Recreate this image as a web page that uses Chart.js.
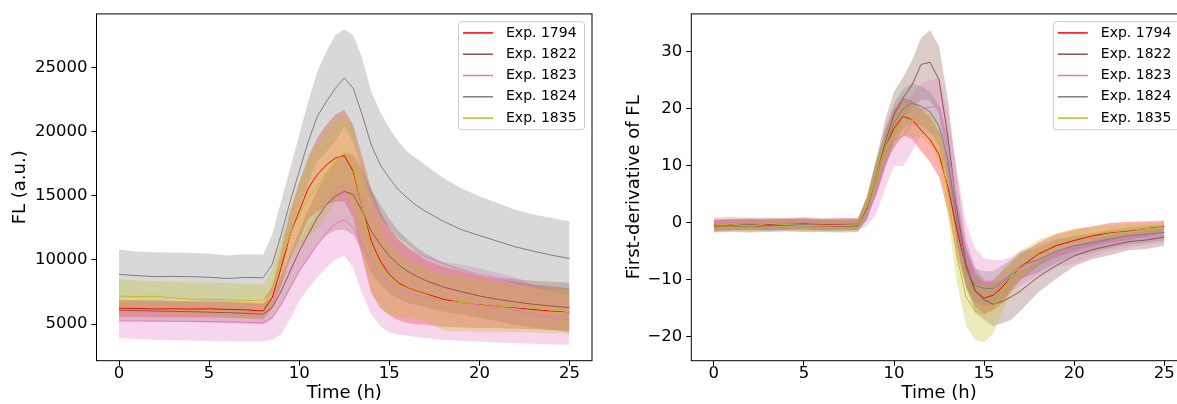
<!DOCTYPE html>
<html>
<head>
<meta charset="utf-8">
<script src="https://cdn.jsdelivr.net/npm/chart.js@4.4.0/dist/chart.umd.min.js"></script>
<style>
  html, body { margin: 0; padding: 0; background: #fff; overflow: hidden; }
  #wrap { position: relative; width: 1177px; height: 404px; overflow: hidden; }
  canvas { position: absolute; top: 0; }
  #left { left: 0; }
  #right { left: 600px; }
</style>
</head>
<body>
<div id="wrap">
  <canvas id="left" width="600" height="404"></canvas>
  <canvas id="right" width="600" height="404"></canvas>
</div>
<script>
// time axis (h)
const times = [0, 1, 2, 3, 4, 5, 6, 7, 8, 8.5, 9, 9.5, 10, 10.5, 11, 11.5, 12, 12.5, 13, 13.5, 14, 14.5, 15, 15.5, 16, 16.5, 17, 18, 19, 20, 21, 22, 23, 24, 25];
const experiments = ["Exp. 1794", "Exp. 1822", "Exp. 1823", "Exp. 1824", "Exp. 1835"];
const xTicks = [0, 5, 10, 15, 20, 25];
const flTicks = [5000, 10000, 15000, 20000, 25000];
const dflTicks = [-20, -10, 0, 10, 20, 30];

// FL (a.u.): mean, lower and upper edge of the band
const fl1794   = [6240, 6230, 6180, 6200, 6180, 6200, 6150, 6120, 6030, 7070, 9390, 11980, 13790, 15590, 16630, 17400, 17920, 18130, 16890, 14040, 11460, 9910, 8880, 8230, 7840, 7580, 7380, 6940, 6680, 6550, 6420, 6290, 6140, 6030, 5960];
const fl1794Hi = [6900, 6880, 6840, 6850, 6830, 6850, 6800, 6780, 6700, 7900, 10800, 13800, 16000, 18000, 19500, 20500, 21300, 21700, 20500, 18000, 15500, 13800, 12500, 11600, 11000, 10500, 10000, 9500, 9100, 8800, 8500, 8300, 8100, 7950, 7800];
const fl1794Lo = [5580, 5580, 5520, 5550, 5530, 5550, 5500, 5460, 5360, 6240, 7980, 10160, 11580, 13180, 13760, 14300, 14540, 14560, 13280, 10080, 7420, 6300, 5700, 5300, 5100, 5000, 4950, 4800, 4750, 4700, 4700, 4650, 4600, 4550, 4500];

const fl1822   = [6085, 6060, 6020, 6000, 5970, 5940, 5900, 5850, 5775, 6290, 7580, 9130, 10680, 11980, 13270, 14300, 14950, 15340, 15080, 13790, 12240, 11200, 10300, 9650, 9130, 8750, 8410, 7890, 7530, 7200, 6940, 6730, 6550, 6420, 6290];
const fl1822Hi = [6900, 6870, 6830, 6800, 6770, 6740, 6700, 6650, 6580, 7200, 8700, 10500, 12300, 13900, 15400, 16700, 17600, 18300, 18200, 17000, 15500, 14300, 13200, 12300, 11600, 11000, 10500, 9800, 9300, 8900, 8650, 8500, 8380, 8300, 8230];
const fl1822Lo = [5270, 5250, 5210, 5200, 5170, 5140, 5100, 5050, 4970, 5380, 6460, 7760, 9060, 10060, 11140, 11900, 12300, 12380, 11960, 10580, 8980, 8100, 7400, 7000, 6660, 6500, 6320, 5980, 5760, 5500, 5230, 4960, 4720, 4540, 4350];

const fl1823   = [5260, 5250, 5240, 5230, 5220, 5200, 5180, 5150, 5130, 5520, 6550, 7840, 9130, 10170, 11200, 12110, 12800, 13140, 12490, 11200, 9910, 8880, 8230, 7790, 7500, 7270, 7120, 6810, 6680, 6500, 6290, 6085, 5775, 5520, 5310];
const fl1823Hi = [6600, 6650, 6680, 6700, 6710, 6700, 6680, 6640, 6610, 7240, 8880, 10280, 11450, 12540, 13780, 14820, 15560, 15980, 15590, 15070, 14050, 12890, 12110, 11380, 10900, 10540, 10330, 9820, 9640, 9350, 9000, 8650, 8080, 7610, 7220];
const fl1823Lo = [3915, 3850, 3800, 3760, 3730, 3700, 3680, 3660, 3650, 3800, 4220, 5400, 6810, 7800, 8620, 9400, 10040, 10300, 9390, 7330, 5775, 4870, 4350, 4200, 4100, 4000, 3915, 3800, 3720, 3650, 3580, 3520, 3470, 3430, 3400];

const fl1824   = [8876, 8780, 8700, 8720, 8700, 8650, 8560, 8640, 8620, 9650, 11980, 14560, 16890, 19210, 21150, 22310, 23350, 24170, 23350, 21280, 18950, 17400, 16370, 15470, 14820, 14250, 13790, 13010, 12360, 11900, 11460, 11020, 10685, 10375, 10116];
const fl1824Hi = [10814, 10650, 10600, 10580, 10550, 10500, 10350, 10450, 10430, 11980, 14560, 17145, 19730, 22310, 24640, 26190, 27480, 27950, 27480, 25670, 23090, 21540, 20250, 19210, 18440, 17920, 17400, 16370, 15590, 14950, 14430, 13910, 13530, 13270, 13010];
const fl1824Lo = [6940, 6910, 6800, 6860, 6850, 6800, 6770, 6830, 6810, 7320, 9400, 11975, 14050, 16110, 17660, 18430, 19220, 20390, 19220, 16890, 14810, 13260, 12490, 11730, 11200, 10580, 10180, 9650, 9130, 8850, 8490, 8130, 7840, 7480, 7220];

const fl1835   = [7200, 7150, 7180, 7050, 6940, 6950, 6900, 6850, 6810, 7840, 9910, 11980, 13530, 14820, 15720, 16760, 17660, 18390, 17140, 14040, 10940, 9390, 8570, 8100, 7790, 7530, 7330, 6810, 6680, 6600, 6420, 6340, 6240, 6100, 5980];
const fl1835Hi = [8490, 8400, 8350, 8300, 8250, 8250, 8200, 8150, 8100, 9200, 11600, 14000, 16000, 17800, 19000, 20000, 20800, 21300, 20200, 17500, 14400, 12600, 11400, 10600, 10100, 9700, 9400, 8900, 8700, 8500, 8200, 8000, 7850, 7700, 7600];
const fl1835Lo = [5910, 5900, 6010, 5800, 5630, 5650, 5600, 5550, 5520, 6480, 8220, 9960, 11060, 11840, 12440, 13520, 14520, 15480, 14080, 10580, 7480, 6180, 5740, 5600, 5480, 5360, 5260, 4500, 4450, 4400, 4380, 4380, 4350, 4300, 4250];

// first derivative of FL: mean, lower and upper edge of the band
const dfl1794   = [-0.4, -0.3, -0.2, -0.3, -0.2, -0.1, -0.3, -0.2, -0.2, 2.7, 7.9, 13.1, 16.6, 18.7, 18.1, 16.3, 14.6, 12.0, 6.2, -1.4, -7.8, -11.9, -13.2, -12.7, -11.3, -9.5, -7.8, -5.5, -4.0, -3.1, -2.3, -1.7, -1.4, -1.0, -0.7];
const dfl1794Hi = [0.6, 0.7, 0.8, 0.7, 0.8, 0.9, 0.7, 0.8, 0.8, 4.5, 10.5, 16, 20, 22, 21.5, 20, 18.5, 16, 10.5, 3, -4.5, -9, -10.5, -10, -8.5, -7, -5.5, -3.5, -2, -1.2, -0.6, 0, 0.2, 0.3, 0.4];
const dfl1794Lo = [-1.4, -1.3, -1.2, -1.3, -1.2, -1.1, -1.3, -1.2, -1.2, 0.9, 5.3, 10.2, 13.2, 15.4, 14.7, 12.6, 10.7, 8, 1.9, -5.8, -11.1, -14.8, -15.9, -15.4, -14.1, -12, -10.1, -7.5, -6, -5, -4, -3.4, -3, -2.3, -1.8];

const dfl1822   = [-0.6, -0.5, -0.6, -0.5, -0.4, -0.5, -0.5, -0.6, -0.5, 2.5, 8, 14, 19, 21.9, 24.2, 27.8, 28.2, 25.1, 14.9, 2, -7.2, -11.9, -13.5, -14.3, -13.8, -13, -12, -9.5, -7.5, -5.8, -4.7, -4, -3.3, -3, -2.5];
const dfl1822Hi = [0.5, 0.6, 0.5, 0.6, 0.7, 0.6, 0.6, 0.5, 0.6, 4.5, 11, 18, 23, 25.5, 28.5, 32.5, 33.8, 31, 21.5, 8, -3, -8, -10, -10.5, -10, -9, -8.5, -6.8, -5.2, -4, -3, -2.3, -1.8, -1.4, -1];
const dfl1822Lo = [-1.7, -1.6, -1.7, -1.6, -1.5, -1.6, -1.6, -1.7, -1.6, 0.5, 5, 10, 15, 18.3, 19.9, 21.7, 21.5, 19.2, 8.3, -4, -11.4, -15.8, -17, -18.1, -17.6, -17, -15.5, -12.2, -9.8, -7.6, -6.4, -5.7, -4.8, -4.6, -4];

const dfl1823   = [0, 0.1, -0.1, 0, -0.1, 0, -0.1, -0.1, -0.2, 1.5, 5, 10, 14.5, 15.2, 17.5, 20, 20.3, 20.5, 13, 3, -5, -9, -10.5, -10.5, -10, -9, -8, -6.5, -5.3, -4.8, -4, -3.2, -2.8, -2.4, -2.2];
const dfl1823Hi = [1.0, 1.1, 0.9, 1.0, 0.9, 1.0, 0.9, 0.9, 0.8, 3.5, 8.5, 14, 19, 20.5, 22.5, 24.5, 25, 25.5, 19, 9, 0, -4.5, -6.2, -6.5, -6.5, -6, -5, -3.8, -2.8, -2.5, -2, -1.5, -1.2, -1, -0.9];
const dfl1823Lo = [-1.0, -0.9, -1.1, -1.0, -1.1, -1.0, -1.1, -1.1, -1.2, -0.5, 1.5, 6, 10, 10, 12.5, 15.5, 15.6, 15.5, 7, -3, -10, -13.5, -14.8, -14.5, -13.5, -12, -11, -9.2, -7.8, -7.1, -6, -4.9, -4.4, -3.8, -3.5];

const dfl1824   = [-0.5, -0.4, -0.3, -0.4, -0.3, -0.3, -0.4, -0.4, -0.3, 2.5, 8, 13, 17.5, 20, 21, 20.5, 19.5, 17, 11, 0, -8, -11, -11.5, -11.5, -10.5, -9, -7.5, -6.5, -5, -4, -3.5, -2.8, -2.3, -2, -1.7];
const dfl1824Hi = [0.5, 0.6, 0.7, 0.6, 0.7, 0.7, 0.6, 0.6, 0.7, 4.5, 11, 16.5, 21, 23.5, 24.5, 24, 23, 20.5, 15, 4, -4.5, -8, -8.5, -8.5, -7.5, -6.5, -5.2, -4.3, -3, -2.2, -1.8, -1.2, -0.8, -0.5, -0.3];
const dfl1824Lo = [-1.5, -1.4, -1.3, -1.4, -1.3, -1.3, -1.4, -1.4, -1.3, 0.5, 5, 9.5, 14, 16.5, 17.5, 17, 16, 13.5, 7, -4, -11.5, -14, -14.5, -14.5, -13.5, -11.5, -9.8, -8.7, -7, -5.8, -5.2, -4.4, -3.8, -3.5, -3.1];

const dfl1835   = [-0.4, -0.2, -0.6, -0.1, -0.3, -0.5, -0.4, -0.5, -0.3, 3, 8, 13, 16, 18.3, 18, 17.8, 16.5, 14, 5, -6, -13, -15.5, -16, -15, -12, -9.5, -7.5, -5, -3.5, -2.5, -2, -1.6, -1.3, -1, -0.8];
const dfl1835Hi = [0.6, 0.8, 0.4, 0.9, 0.7, 0.5, 0.6, 0.5, 0.7, 5, 10.5, 15.5, 19, 21, 21, 20.5, 19.5, 17.5, 9, -1.5, -8, -10.5, -11, -10.5, -8.5, -6.5, -5, -3, -1.8, -1, -0.7, -0.4, -0.2, 0, 0.2];
const dfl1835Lo = [-1.4, -1.2, -1.6, -1.1, -1.3, -1.5, -1.4, -1.5, -1.3, 1, 5.5, 10.5, 13, 15.6, 15, 15.1, 13.5, 10.5, 1, -10.5, -18, -20.5, -21, -19.5, -15.5, -12.5, -10, -7, -5.2, -4, -3.3, -2.8, -2.4, -2, -1.8];

// styles
const lineColors = ["#ff0000", "#8c564b", "#e377c2", "#7f7f7f", "#bcbd22"];
const bandColors = ["rgba(255,0,0,0.3)", "rgba(140,86,75,0.3)", "rgba(227,119,194,0.3)", "rgba(127,127,127,0.3)", "rgba(188,189,34,0.3)"];
const FONT = "'DejaVu Sans', 'Liberation Sans', sans-serif";

Chart.defaults.font.family = FONT;
Chart.defaults.color = "#000";

function pts(arr) {
    return times.map((t, i) => ({ x: t, y: arr[i] }));
}

function buildDatasets(means, lows, highs) {
    const ds = [];
    means.forEach((m, i) => {
        ds.push({
            label: experiments[i],
            data: pts(m),
            borderColor: lineColors[i],
            borderWidth: 1,
            pointRadius: 0,
            fill: false,
            order: 10 - i,
        });
    });
    lows.forEach((lo, i) => {
        ds.push({ label: "lo", data: pts(lo), borderColor: "transparent", borderWidth: 0, pointRadius: 0, fill: false, order: 20 - i });
        ds.push({ label: "hi", data: pts(highs[i]), borderColor: "transparent", borderWidth: 0, pointRadius: 0, backgroundColor: bandColors[i], fill: "-1", order: 20 - i });
    });
    return ds;
}

// black box round the plot area
const framePlugin = {
    id: "frame",
    afterDatasetsDraw(chart) {
        const { ctx, chartArea: a } = chart;
        ctx.save();
        ctx.strokeStyle = "#000";
        ctx.lineWidth = 1;
        ctx.strokeRect(a.left, a.top, a.right - a.left, a.bottom - a.top);
        ctx.restore();
    },
};

// matplotlib-like legend in the upper right corner
const boxLegend = {
    id: "boxLegend",
    afterDraw(chart) {
        const { ctx, chartArea: a } = chart;
        const w = 126, h = 108;
        const left = a.right - 8 - w, top = a.top + 7.3;
        ctx.save();
        ctx.fillStyle = "rgba(255,255,255,0.8)";
        ctx.strokeStyle = "#cccccc";
        ctx.lineWidth = 1;
        ctx.beginPath();
        ctx.roundRect(left + 0.5, top + 0.5, w, h, 3);
        ctx.fill();
        ctx.stroke();
        ctx.font = "14px " + FONT;
        ctx.textBaseline = "middle";
        ctx.fillStyle = "#000";
        experiments.forEach((name, i) => {
            const y = top + 11.7 + i * 21.3;
            ctx.strokeStyle = lineColors[i];
            ctx.lineWidth = 1.5;
            ctx.beginPath();
            ctx.moveTo(left + 5, y);
            ctx.lineTo(left + 35, y);
            ctx.stroke();
            ctx.fillText(name, left + 48, y);
        });
        ctx.restore();
    },
};

function fmt(v) {
    return v < 0 ? "\u2212" + Math.abs(v) : String(v);
}

function makeOptions(yMin, yMax, yTickVals, yTitle, yTitlePad, yWidth, rightPad) {
    return {
        responsive: false,
        animation: false,
        devicePixelRatio: 1,
        layout: { padding: { top: 11.7, right: rightPad, bottom: 0, left: 0 } },
        plugins: { legend: { display: false }, tooltip: { enabled: false } },
        scales: {
            x: {
                type: "linear",
                min: -1.25,
                max: 26.25,
                afterBuildTicks: (s) => { s.ticks = xTicks.map((v) => ({ value: v })); },
                afterFit: (s) => { s.height = 43.3; },
                grid: { display: true, drawOnChartArea: false, drawTicks: true, tickLength: 5, color: "#000", tickColor: "#000" },
                border: { display: false },
                ticks: { color: "#000", font: { size: 16.5 }, padding: -2, maxRotation: 0, callback: (v) => fmt(v) },
                title: { display: true, text: "Time (h)", color: "#000", font: { size: 18, lineHeight: 1.2 }, padding: { top: 0, bottom: 0 } },
            },
            y: {
                type: "linear",
                min: yMin,
                max: yMax,
                afterBuildTicks: (s) => { s.ticks = yTickVals.map((v) => ({ value: v })); },
                afterFit: (s) => { s.width = yWidth; },
                grid: { display: true, drawOnChartArea: false, drawTicks: true, tickLength: 5, color: "#000", tickColor: "#000" },
                border: { display: false },
                ticks: { color: "#000", font: { size: 16.5 }, padding: 4, callback: (v) => fmt(v) },
                title: { display: true, text: yTitle, color: "#000", font: { size: 18, lineHeight: 1.2 }, padding: { top: yTitlePad, bottom: 0 } },
            },
        },
    };
}

new Chart(document.getElementById("left"), {
    type: "line",
    data: {
        datasets: buildDatasets(
            [fl1794, fl1822, fl1823, fl1824, fl1835],
            [fl1794Lo, fl1822Lo, fl1823Lo, fl1824Lo, fl1835Lo],
            [fl1794Hi, fl1822Hi, fl1823Hi, fl1824Hi, fl1835Hi]
        ),
    },
    options: makeOptions(2160, 29150, flTicks, "FL (a.u.)", 10, 96.5, 8),
    plugins: [framePlugin, boxLegend],
});

new Chart(document.getElementById("right"), {
    type: "line",
    data: {
        datasets: buildDatasets(
            [dfl1794, dfl1822, dfl1823, dfl1824, dfl1835],
            [dfl1794Lo, dfl1822Lo, dfl1823Lo, dfl1824Lo, dfl1835Lo],
            [dfl1794Hi, dfl1822Hi, dfl1823Hi, dfl1824Hi, dfl1835Hi]
        ),
    },
    options: makeOptions(-24.19, 36.68, dflTicks, "First-derivative of FL", 23.7, 91.3, 13.2),
    plugins: [framePlugin, boxLegend],
});
</script>
</body>
</html>
